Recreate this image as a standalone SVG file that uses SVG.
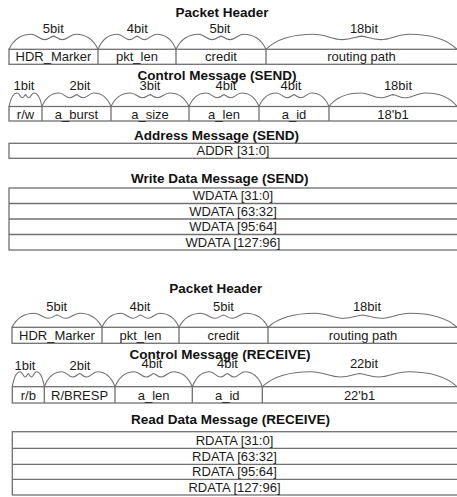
<svg xmlns="http://www.w3.org/2000/svg" xmlns:xlink="http://www.w3.org/1999/xlink" width="457" height="497" viewBox="0 0 457 497">
<style>
.box{fill:#fff;stroke:#707070;stroke-width:1.3}
.ln{stroke:#707070;stroke-width:1.3;fill:none}
.br{fill:none;stroke:#707070;stroke-width:1.1}
.t{font-family:"Liberation Sans",Arial,sans-serif;font-size:13px;fill:#1a1a1a;text-anchor:middle}
.h{font-family:"Liberation Sans",Arial,sans-serif;font-size:13.5px;font-weight:bold;fill:#111;text-anchor:middle}
</style>
<defs>
<path id="brace" class="br" vector-effect="non-scaling-stroke" d="M0,0 C6,-10.5 14,-14 25,-14 C31,-14 35,-9 40,-9 C45,-9 47,-12 50,-12.3 C53,-12 55,-9 60,-9 C65,-9 69,-14 75,-14 C86,-14 94,-10.5 100,0"/>
</defs>
<rect width="457" height="497" fill="#fff"/>

<g id="send-header">
<text class="h" x="222" y="17">Packet Header</text>
<rect class="box" x="9" y="49.3" width="460" height="15"/>
<path class="ln" d="M98,49.3V64.3M176,49.3V64.3M266,49.3V64.3"/>
<use href="#brace" transform="translate(9,49.3) scale(0.89,1.071)"/>
<use href="#brace" transform="translate(98,49.3) scale(0.78,1.071)"/>
<use href="#brace" transform="translate(176,49.3) scale(0.9,1.071)"/>
<use href="#brace" transform="translate(266,49.3) scale(1.91,1.071)"/>
<text class="t" x="53.3" y="33">5bit</text>
<text class="t" x="137.3" y="33">4bit</text>
<text class="t" x="220" y="33">5bit</text>
<text class="t" x="364" y="33">18bit</text>
<text class="t" x="53.5" y="61">HDR_Marker</text>
<text class="t" x="137" y="61">pkt_len</text>
<text class="t" x="221" y="61">credit</text>
<text class="t" x="361.5" y="61">routing path</text>
</g>

<g id="send-control">
<text class="h" x="217" y="79.5">Control Message (SEND)</text>
<rect class="box" x="9" y="106.5" width="460" height="14.5"/>
<path class="ln" d="M42,106.5V121M111,106.5V121M189,106.5V121M259,106.5V121M329,106.5V121"/>
<use href="#brace" transform="translate(9,106.5) scale(0.33,0.964)"/>
<use href="#brace" transform="translate(42,106.5) scale(0.69,0.964)"/>
<use href="#brace" transform="translate(111,106.5) scale(0.78,0.964)"/>
<use href="#brace" transform="translate(189,106.5) scale(0.7,0.964)"/>
<use href="#brace" transform="translate(259,106.5) scale(0.7,0.964)"/>
<use href="#brace" transform="translate(329,106.5) scale(1.28,0.964)"/>
<text class="t" x="24" y="89.5">1bit</text>
<text class="t" x="80" y="89.5">2bit</text>
<text class="t" x="150" y="89.5">3bit</text>
<text class="t" x="226" y="89.5">4bit</text>
<text class="t" x="291" y="89.5">4bit</text>
<text class="t" x="398" y="89.5">18bit</text>
<text class="t" x="25.5" y="118.5">r/w</text>
<text class="t" x="76.5" y="118.5">a_burst</text>
<text class="t" x="150" y="118.5">a_size</text>
<text class="t" x="224" y="118.5">a_len</text>
<text class="t" x="294" y="118.5">a_id</text>
<text class="t" x="393" y="118.5">18'b1</text>
</g>

<g id="send-address">
<text class="h" x="216.5" y="140">Address Message (SEND)</text>
<rect class="box" x="9" y="143.3" width="460" height="15"/>
<text class="t" x="233" y="155.4">ADDR [31:0]</text>
</g>

<g id="send-wdata">
<text class="h" x="219.7" y="182.5">Write Data Message (SEND)</text>
<rect class="box" x="9" y="188" width="460" height="62"/>
<path class="ln" d="M9,203.5H469M9,219H469M9,234.5H469"/>
<text class="t" x="233" y="200.4">WDATA [31:0]</text>
<text class="t" x="233" y="215.9">WDATA [63:32]</text>
<text class="t" x="233" y="231.4">WDATA [95:64]</text>
<text class="t" x="233" y="246.9">WDATA [127:96]</text>
</g>

<g id="recv-header">
<text class="h" x="215.7" y="292.5">Packet Header</text>
<rect class="box" x="12" y="327.3" width="457" height="16"/>
<path class="ln" d="M102,327.3V343.3M179,327.3V343.3M268,327.3V343.3"/>
<use href="#brace" transform="translate(12,327.3) scale(0.9,1)"/>
<use href="#brace" transform="translate(102,327.3) scale(0.77,1)"/>
<use href="#brace" transform="translate(179,327.3) scale(0.89,1)"/>
<use href="#brace" transform="translate(268,327.3) scale(1.89,1)"/>
<text class="t" x="56.7" y="311">5bit</text>
<text class="t" x="140" y="311">4bit</text>
<text class="t" x="223.5" y="311">5bit</text>
<text class="t" x="367" y="311">18bit</text>
<text class="t" x="57" y="340">HDR_Marker</text>
<text class="t" x="140.5" y="340">pkt_len</text>
<text class="t" x="223.5" y="340">credit</text>
<text class="t" x="363" y="340">routing path</text>
</g>

<g id="recv-control">
<text class="h" x="220" y="359">Control Message (RECEIVE)</text>
<rect class="box" x="12.3" y="386.7" width="457" height="16.3"/>
<path class="ln" d="M44.3,386.7V403M115,386.7V403M192.3,386.7V403M262.3,386.7V403"/>
<use href="#brace" transform="translate(12.3,386.7) scale(0.32,1.071)"/>
<use href="#brace" transform="translate(44.3,386.7) scale(0.707,1.071)"/>
<use href="#brace" transform="translate(115,386.7) scale(0.773,1.071)"/>
<use href="#brace" transform="translate(192.3,386.7) scale(0.7,1.071)"/>
<use href="#brace" transform="translate(262.3,386.7) scale(1.947,1.071)"/>
<text class="t" x="25" y="369.5">1bit</text>
<text class="t" x="80" y="369.5">2bit</text>
<text class="t" x="152" y="368">4bit</text>
<text class="t" x="227.5" y="368">4bit</text>
<text class="t" x="364" y="368">22bit</text>
<text class="t" x="28.3" y="399.5">r/b</text>
<text class="t" x="79.6" y="399.5">R/BRESP</text>
<text class="t" x="153.6" y="399.5">a_len</text>
<text class="t" x="227.3" y="399.5">a_id</text>
<text class="t" x="359.6" y="399.5">22'b1</text>
</g>

<g id="recv-rdata">
<text class="h" x="230.5" y="424">Read Data Message (RECEIVE)</text>
<rect class="box" x="12.3" y="431.7" width="457" height="63.3"/>
<path class="ln" d="M12.3,448.3H469M12.3,464.3H469M12.3,479.3H469"/>
<text class="t" x="234.5" y="444.6">RDATA [31:0]</text>
<text class="t" x="234.5" y="460.9">RDATA [63:32]</text>
<text class="t" x="234.5" y="476.4">RDATA [95:64]</text>
<text class="t" x="234.5" y="491.8">RDATA [127:96]</text>
</g>
</svg>
